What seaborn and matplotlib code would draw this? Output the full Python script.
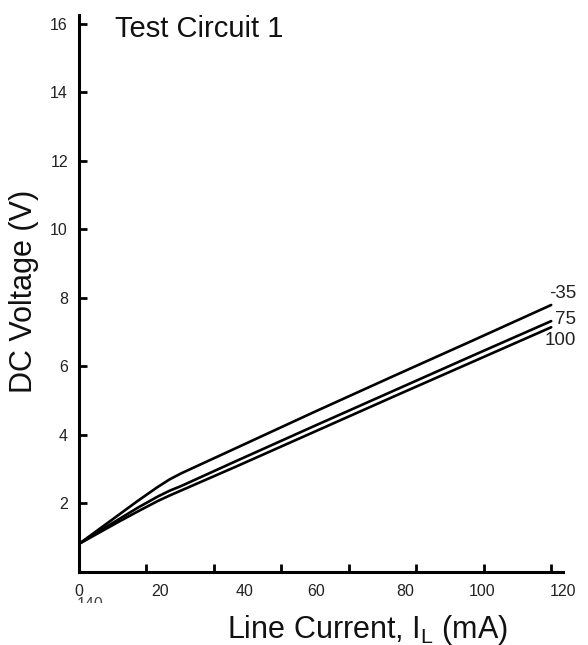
import numpy as np
import pandas as pd
import matplotlib
matplotlib.use("Agg")
import matplotlib.pyplot as plt
import seaborn as sns
from matplotlib.patches import Rectangle

# Data (Line current in mA, DC voltage in V)
current = [0, 5, 10, 15, 20, 23, 26, 40, 60, 80, 100, 120]
v_minus35 = [0.82, 1.24, 1.66, 2.08, 2.48, 2.70, 2.88, 3.62, 4.68, 5.72, 6.75, 7.79]
v_75 = [0.82, 1.18, 1.53, 1.88, 2.20, 2.37, 2.51, 3.24, 4.27, 5.29, 6.31, 7.32]
v_100 = [0.82, 1.14, 1.46, 1.77, 2.07, 2.23, 2.38, 3.08, 4.10, 5.12, 6.13, 7.14]
temps = ["-35", "75", "100"]
end_label_y = [8.13, 7.38, 6.76]

xtick_labels = ["0", "20", "40", "60", "80", "100", "120"]
xtick_label_pos = [0, 20.5, 42, 60.3, 83, 102.5, 123]
ytick_vals = [2, 4, 6, 8, 10, 12, 14, 16]

df = pd.DataFrame({
    "current": current * 3,
    "voltage": v_minus35 + v_75 + v_100,
    "temp": [t for t in temps for _ in current],
})

sns.set_style("ticks")
plt.rcParams["font.family"] = ["Liberation Sans", "DejaVu Sans"]
plt.rcParams["mathtext.fontset"] = "custom"
plt.rcParams["mathtext.rm"] = "Liberation Sans"

fig = plt.figure(figsize=(5.88, 6.45), dpi=100)
W, H = 588, 645
ax = fig.add_axes([79 / W, (H - 572) / H, 484 / W, (572 - 15) / H])

sns.lineplot(data=df, x="current", y="voltage", units="temp", estimator=None,
             color="black", linewidth=1.9, ax=ax, legend=False)

ax.set_xlim(0, 121.3)
ax.set_ylim(0, 16.25)
sns.despine(ax=ax)
for s in ["left", "bottom"]:
    ax.spines[s].set_linewidth(2.2)
    ax.spines[s].set_color("black")

# x axis: labels and tick marks don't line up in the original
ax.set_xticks(xtick_label_pos)
ax.set_xticklabels(xtick_labels, fontsize=11.5)
ax.set_xticks([120 / 7 * k for k in range(1, 8)], minor=True)
ax.tick_params(axis="x", which="major", length=0, pad=9)
ax.tick_params(axis="x", which="minor", direction="in", length=6, width=2, color="black")

ax.set_yticks(ytick_vals)
ax.set_yticklabels([str(v) for v in ytick_vals], fontsize=11.5)
ax.tick_params(axis="y", direction="in", length=6, width=2, pad=8, color="black")
ax.tick_params(labelcolor="#222222")

ax.set_xlabel(r"Line Current, $\mathregular{I_L}$ (mA)", fontsize=22, color="#111111")
ax.xaxis.set_label_coords(0.596, -0.074)
ax.set_ylabel("DC Voltage (V)", fontsize=22, color="#111111")
ax.yaxis.set_label_coords(-0.083, 0.503)

ax.text(0.074, 0.960, "Test Circuit 1", transform=ax.transAxes, fontsize=21,
        va="baseline", ha="left", color="#111111")

for t, y in zip(temps, end_label_y):
    ax.text(126.3, y, t, fontsize=13.5, ha="right", va="center", clip_on=False,
            color="#222222")

# half-cut "140" below the zero label
fig.text(77 / W, 1 - 597 / H, "140", fontsize=11.5, color="#444444", va="top", ha="left")
fig.patches.append(Rectangle((70 / W, 0), 60 / W, 1 - 603 / H, transform=fig.transFigure,
                             facecolor="white", edgecolor="none", zorder=10))

fig.savefig("out.png", dpi=100)
